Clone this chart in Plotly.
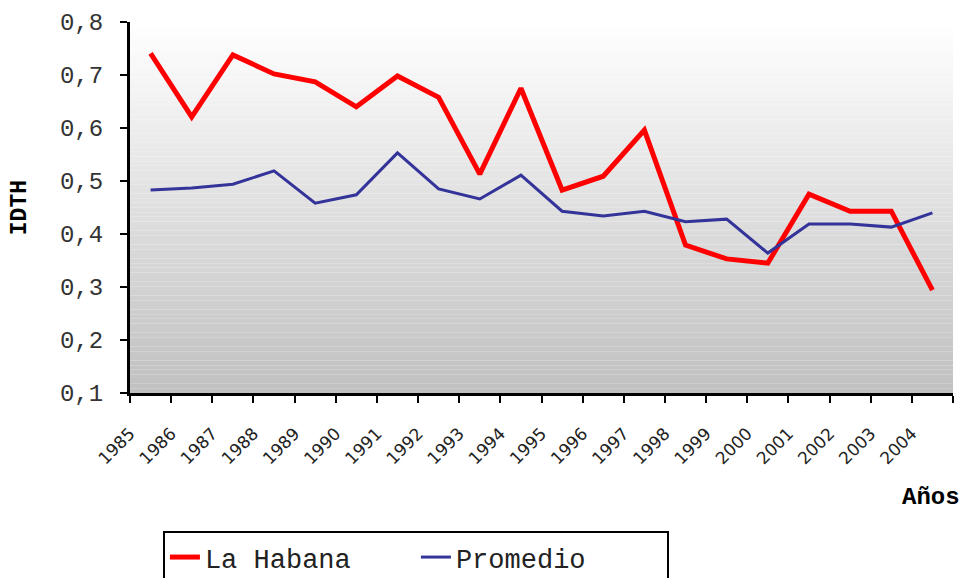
import plotly.graph_objects as go

years = [str(y) for y in range(1985, 2005)]
la_habana = [0.741, 0.621, 0.738, 0.702, 0.687, 0.640, 0.698, 0.658, 0.513, 0.675,
             0.483, 0.509, 0.596, 0.379, 0.353, 0.345, 0.475, 0.443, 0.443, 0.294]
promedio = [0.483, 0.487, 0.494, 0.519, 0.458, 0.474, 0.553, 0.485, 0.466, 0.511,
            0.443, 0.434, 0.443, 0.423, 0.428, 0.364, 0.419, 0.419, 0.413, 0.440]
y_ticks = [0.1, 0.2, 0.3, 0.4, 0.5, 0.6, 0.7, 0.8]
y_tick_text = ["0,1", "0,2", "0,3", "0,4", "0,5", "0,6", "0,7", "0,8"]

xpos = [i + 0.5 for i in range(len(years))]

fig = go.Figure()
fig.add_trace(go.Scatter(x=xpos, y=la_habana, mode="lines", name="La Habana",
                         line=dict(color="#FF0000", width=5)))
fig.add_trace(go.Scatter(x=xpos, y=promedio, mode="lines", name="Promedio",
                         line=dict(color="#333399", width=3)))

# gradient background bands
n = 80
shapes = []
for k in range(n):
    t = (k + 0.5) / n  # 0 at top
    c = int(round(255 - t * (255 - 192)))
    shapes.append(dict(type="rect", xref="x domain", yref="y domain",
                       x0=0, x1=1, y0=1 - (k + 1) / n, y1=1 - k / n,
                       fillcolor=f"rgb({c},{c},{c})", line=dict(width=0),
                       layer="below"))

fig.update_layout(
    width=967, height=578,
    margin=dict(l=130, r=14, t=22, b=185, autoexpand=False),
    paper_bgcolor="white", plot_bgcolor="rgba(0,0,0,0)",
    shapes=shapes,
    showlegend=True,
    legend=dict(orientation="h", x=0.04, y=-0.372, xanchor="left", yanchor="top",
                bordercolor="black", borderwidth=2, bgcolor="white",
                entrywidth=206, entrywidthmode="pixels",
                font=dict(family="Liberation Mono", size=27, color="#222")),
    xaxis=dict(range=[0, 20], tickmode="array", automargin=False,
               tickvals=list(range(21)), ticktext=years + [""],
               tickangle=-45, ticks="outside", ticklen=7, tickwidth=2, tickcolor="black",
               ticklabelstandoff=14,
               showline=True, linecolor="black", linewidth=3, showgrid=False, zeroline=False,
               tickfont=dict(family="DejaVu Sans", size=17, color="#222")),
    yaxis=dict(range=[0.1, 0.8], tickmode="array", tickvals=y_ticks, ticktext=y_tick_text,
               automargin=False, ticklabelstandoff=12,
               ticks="outside", ticklen=7, tickwidth=2, tickcolor="black",
               showline=True, linecolor="black", linewidth=3, showgrid=False, zeroline=False,
               tickfont=dict(family="Liberation Mono", size=24, color="#333")),
    annotations=[
        dict(text="<b>IDTH</b>", xref="paper", yref="paper", x=-0.134, y=0.5,
             xanchor="center", yanchor="middle", textangle=-90, showarrow=False,
             font=dict(family="Liberation Mono", size=23, color="black")),
        dict(text="<b>Años</b>", xref="paper", yref="paper", x=1.011, y=-0.283,
             xanchor="right", yanchor="middle", showarrow=False,
             font=dict(family="Liberation Mono", size=24, color="black")),
    ],
)

fig.write_html("out.html", config={"displayModeBar": False},
               post_script="document.body.style.margin='0';")
